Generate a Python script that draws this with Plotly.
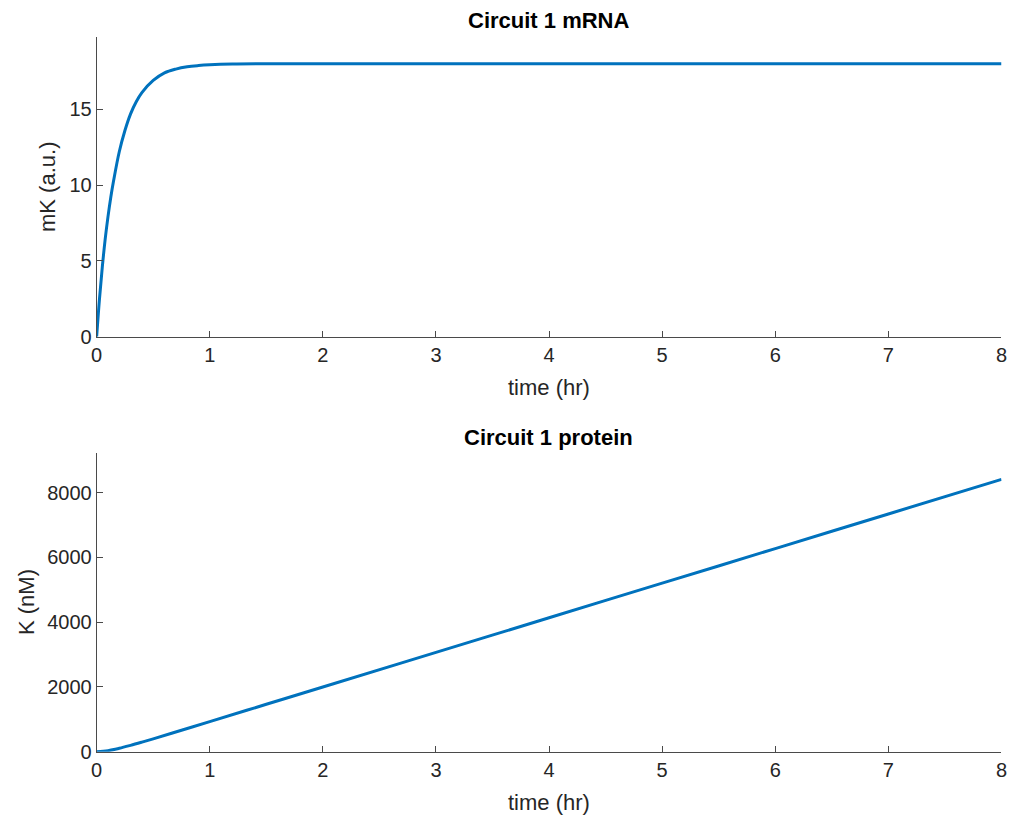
import plotly.graph_objects as go

# Time points (hours)
t_mrna = [0, 0.025, 0.05, 0.075, 0.1, 0.125, 0.15, 0.2, 0.25, 0.3, 0.35, 0.4, 0.5,
          0.6, 0.7, 0.8, 0.9, 1.0, 1.2, 1.5, 2, 3, 4, 5, 6, 7, 8]
# Circuit 1 mRNA, mK (a.u.)
mK = [0, 2.5, 4.6, 6.4, 7.9, 9.2, 10.3, 12.2, 13.6, 14.7, 15.5, 16.1, 16.9,
      17.4, 17.65, 17.8, 17.88, 17.93, 17.98, 18.0, 18.0, 18.0, 18.0, 18.0, 18.0, 18.0, 18.0]

t_prot = [0, 0.1, 0.2, 0.3, 0.4, 0.5, 0.75, 1, 1.5, 2, 3, 4, 5, 6, 7, 8]
# Circuit 1 protein, K (nM)
K = [0, 32, 104, 195, 294, 397, 662, 929, 1464, 1998, 3067, 4136, 5205, 6274, 7343, 8413]

x_ticks = [0, 1, 2, 3, 4, 5, 6, 7, 8]
mk_ticks = [0, 5, 10, 15]
k_ticks = [0, 2000, 4000, 6000, 8000]

LINE = "#0072BD"
TXT = "#262626"
FONT = "Liberation Sans, Arial, Helvetica, sans-serif"

fig = go.Figure()
fig.add_trace(go.Scatter(x=t_mrna, y=mK, mode="lines", line=dict(color=LINE, width=3, shape="spline"),
                         xaxis="x", yaxis="y", showlegend=False))
fig.add_trace(go.Scatter(x=t_prot, y=K, mode="lines", line=dict(color=LINE, width=3, shape="spline"),
                         xaxis="x2", yaxis="y2", showlegend=False))

xdom = [0.0956, 0.9906]
top_dom = [0.5889, 0.9545]
bot_dom = [0.0822, 0.4465]

common_axis = dict(showgrid=False, zeroline=False, showline=True, linecolor="#4a4a4a", linewidth=1,
                   ticks="inside", ticklen=6, tickcolor="#4a4a4a", tickwidth=1, automargin=False,
                   tickfont=dict(family=FONT, size=20, color=TXT), mirror=False)

fig.update_layout(
    width=1011, height=819,
    margin=dict(l=0, r=0, t=0, b=0),
    paper_bgcolor="white", plot_bgcolor="white",
    xaxis=dict(domain=xdom, anchor="y", range=[0, 8], tickvals=x_ticks, **common_axis),
    yaxis=dict(domain=top_dom, anchor="x", range=[0, 19.75], tickvals=mk_ticks, **common_axis),
    xaxis2=dict(domain=xdom, anchor="y2", range=[0, 8], tickvals=x_ticks, **common_axis),
    yaxis2=dict(domain=bot_dom, anchor="x2", range=[0, 9216], tickvals=k_ticks, **common_axis),
)

def px_y(y):
    return 1 - y / 819

def px_x(x):
    return x / 1011

annots = [
    dict(text="<b>Circuit 1 mRNA</b>", x=px_x(548), y=px_y(20), size=22, color="#000000", angle=0),
    dict(text="<b>Circuit 1 protein</b>", x=px_x(548), y=px_y(437), size=22, color="#000000", angle=0),
    dict(text="time (hr)", x=px_x(549), y=px_y(387), size=22, color=TXT, angle=0),
    dict(text="time (hr)", x=px_x(549), y=px_y(802), size=22, color=TXT, angle=0),
    dict(text="mK (a.u.)", x=px_x(48), y=px_y(187), size=22, color=TXT, angle=-90),
    dict(text="K (nM)", x=px_x(26), y=px_y(602), size=22, color=TXT, angle=-90),
]
for a in annots:
    fig.add_annotation(text=a["text"], x=a["x"], y=a["y"], xref="paper", yref="paper",
                       xanchor="center", yanchor="middle", showarrow=False, textangle=a["angle"],
                       font=dict(family=FONT, size=a["size"], color=a["color"]))

fig.write_html("out.html")
